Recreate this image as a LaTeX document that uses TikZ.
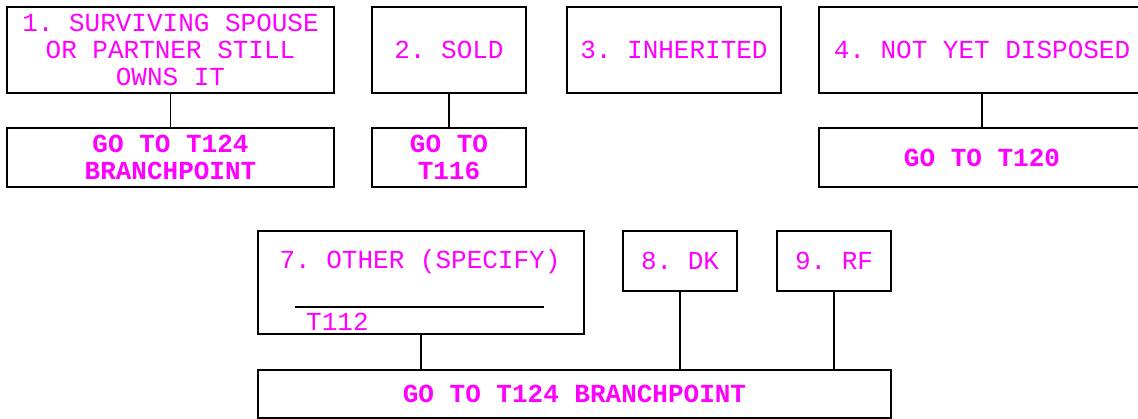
\documentclass[tikz,border=0pt]{standalone}
\usepackage{fontspec}
\setmonofont{Liberation Mono}
\definecolor{mag}{RGB}{255,0,255}
\begin{document}
\begin{tikzpicture}[x=1pt,y=-1pt,
  box/.style={draw=black, line width=1.8pt, rectangle, inner sep=0pt, outer sep=0pt,
    text=mag, align=center, font=\fontsize{26}{27}\selectfont\ttfamily},
  goto/.style={box, font=\fontsize{26}{27}\selectfont\ttfamily\bfseries},
  txt/.style={text=mag, inner sep=0pt, font=\fontsize{26}{27}\selectfont\ttfamily},
  conn/.style={draw=black, line width=1.8pt}]
\useasboundingbox (0,0) rectangle (1138,419);
% row 1
\node[box, minimum width=327pt, minimum height=86pt] (b1) at (170.5,50) {1. SURVIVING SPOUSE\\OR PARTNER STILL\\OWNS IT};
\node[goto, minimum width=327pt, minimum height=59pt] (g1) at (170.5,157.5) {GO TO T124\\BRANCHPOINT};
\node[box, minimum width=154pt, minimum height=86pt] (b2) at (449,50) {2. SOLD};
\node[goto, minimum width=154pt, minimum height=59pt] (g2) at (449,157.5) {GO TO\\T116};
\node[box, minimum width=214pt, minimum height=86pt] (b3) at (674,50) {3. INHERITED};
\node[box, minimum width=326pt, minimum height=86pt] (b4) at (982,50) {4. NOT YET DISPOSED};
\node[goto, minimum width=326pt, minimum height=59pt] (g4) at (982,157.5) {GO TO T120};
\draw[conn] (b1.south) -- (g1.north);
\draw[conn] (b2.south) -- (g2.north);
\draw[conn] (b4.south) -- (g4.north);
% row 2
\node[box, minimum width=326pt, minimum height=103pt] (b7) at (421,282.5) {};
\node[txt] (t7) at (420,262) {7. OTHER (SPECIFY)};
\coordinate (l1) at (295,307);
\coordinate (l2) at (544,307);
\draw[conn] (l1) -- (l2);
\node[txt, anchor=west] (t112) at (306,322) {T112};
\node[box, minimum width=114pt, minimum height=60pt] (b8) at (680,261) {8. DK};
\node[box, minimum width=114pt, minimum height=60pt] (b9) at (834,261) {9. RF};
\node[goto, minimum width=633pt, minimum height=48pt] (g7) at (574.5,394) {GO TO T124 BRANCHPOINT};
\draw[conn] (b7.south) -- (b7.south |- g7.north);
\draw[conn] (b8.south) -- (b8.south |- g7.north);
\draw[conn] (b9.south) -- (b9.south |- g7.north);
\end{tikzpicture}
\end{document}
